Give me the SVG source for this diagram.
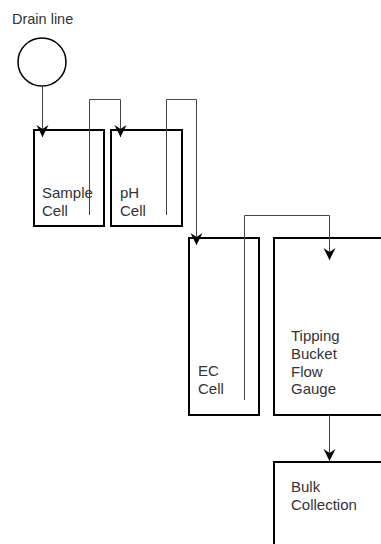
<svg xmlns="http://www.w3.org/2000/svg" width="381" height="544" viewBox="0 0 381 544">
<style>
.box{fill:none;stroke:#000;stroke-width:2}
.conn{fill:none;stroke:#444;stroke-width:1}
text{font-family:"Liberation Sans",Arial,sans-serif;font-size:15px;fill:#333}
</style>
<defs>
<marker id="arr" markerUnits="userSpaceOnUse" markerWidth="14" markerHeight="14" refX="0" refY="0" viewBox="-7 -12 14 14" orient="auto" overflow="visible">
<path d="M0,0 L-6,-12 L0,-8 L6,-12 Z" fill="#000" transform="rotate(-90)"/>
</marker>
</defs>
<rect width="381" height="544" fill="#fff"/>
<g id="drain">
<circle cx="42" cy="62" r="24" fill="none" stroke="#000" stroke-width="1.5"/>
<text x="12" y="24" style="font-size:14.5px">Drain line</text>
</g>
<g id="sample">
<rect class="box" x="34" y="130" width="70" height="96"/>
<text x="42" y="198">Sample</text>
<text x="42" y="216">Cell</text>
</g>
<g id="ph">
<rect class="box" x="111" y="130" width="71" height="96"/>
<text x="120" y="198">pH</text>
<text x="120" y="216">Cell</text>
</g>
<g id="ec">
<rect class="box" x="189" y="238" width="70" height="177"/>
<text x="198" y="376">EC</text>
<text x="198" y="394">Cell</text>
</g>
<g id="tipping">
<rect class="box" x="274" y="238" width="120" height="177"/>
<text x="291" y="341">Tipping</text>
<text x="291" y="359">Bucket</text>
<text x="291" y="376.5">Flow</text>
<text x="291" y="394">Gauge</text>
</g>
<g id="bulk">
<rect class="box" x="274" y="462" width="120" height="100"/>
<text x="291" y="491.5">Bulk</text>
<text x="291" y="509.5">Collection</text>
</g>
<g id="connectors">
<path class="conn" d="M42.5,86 V137" marker-end="url(#arr)"/>
<path class="conn" d="M89.5,215 V99.5 H120.5 V137" marker-end="url(#arr)"/>
<path class="conn" d="M166.5,215 V99.5 H196.5 V245" marker-end="url(#arr)"/>
<path class="conn" d="M244.5,400 V215.5 H329.5 V260" marker-end="url(#arr)"/>
<path class="conn" d="M329.5,415 V461" marker-end="url(#arr)"/>
</g>
</svg>
